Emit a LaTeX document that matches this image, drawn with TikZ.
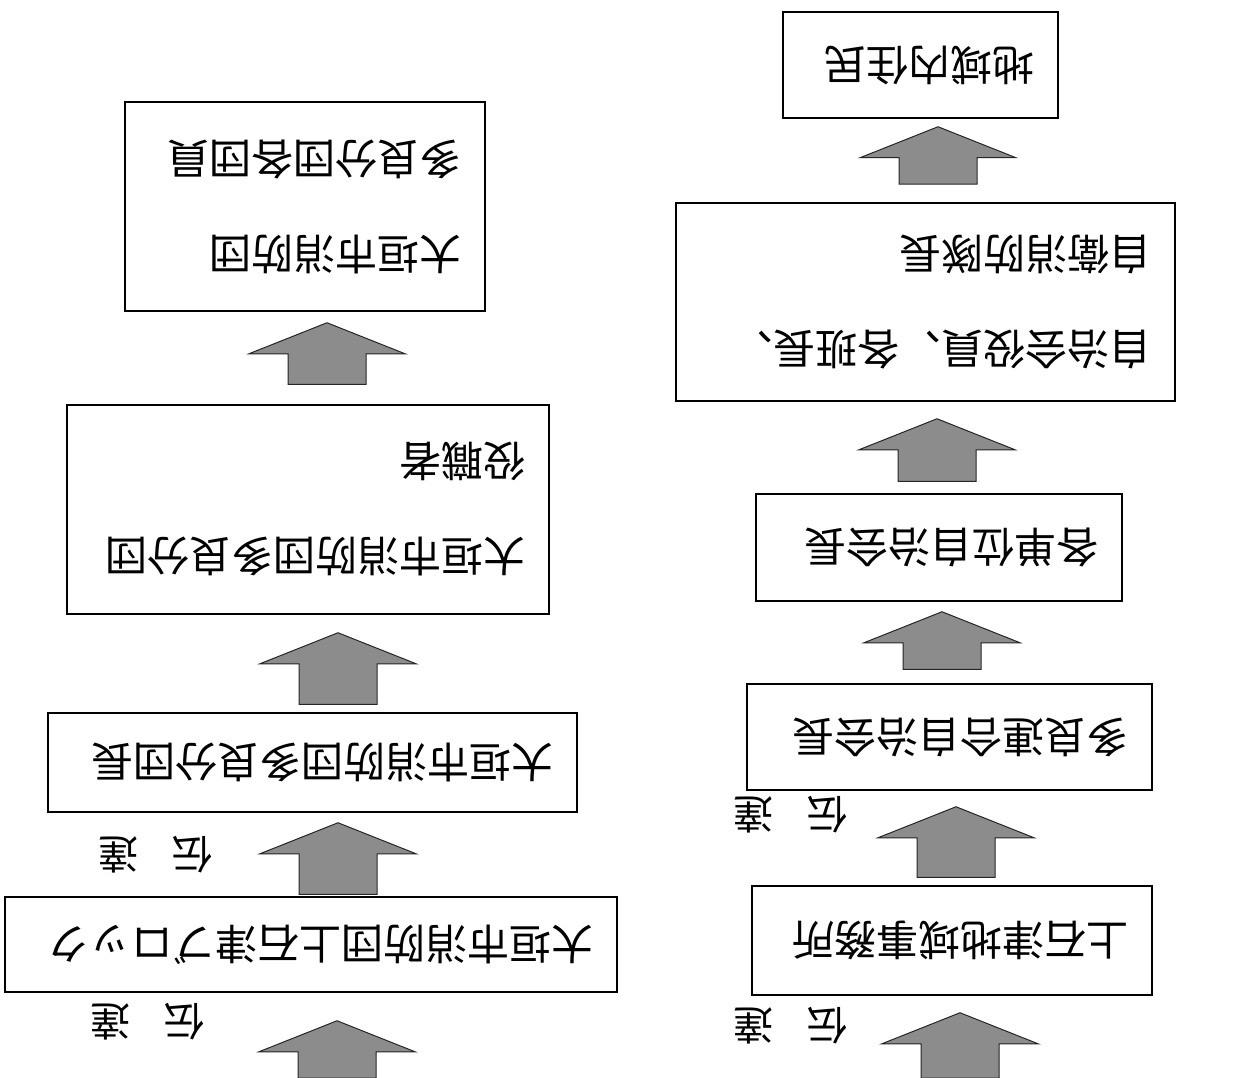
\documentclass[tikz,border=0pt]{standalone}
\usepackage{fontspec}
\usepackage{graphicx}
\usetikzlibrary{calc}
\newfontfamily\jpf{Noto Sans CJK JP}
\tikzset{
  box/.style={draw, line width=1.5pt, rotate=180, align=left, inner xsep=24pt, inner ysep=0pt,
    font=\jpf\fontsize{42}{95}\selectfont},
  lbl/.style={rotate=180, inner sep=0pt, font=\jpf\fontsize{40}{48}\selectfont},
  blkarr/.style={fill=black!45, draw=black!85, line width=1pt, line join=miter}
}
% #1 upper node anchor (image-bottom edge), #2 gap to tip, #3 lower anchor (image-top edge), #4 gap, #5 x
\newcommand\blkarrow[5]{%
  \coordinate (ax) at (#5,0);
  \filldraw[blkarr] let \p1=(#1), \p2=(#3), \p3=(ax) in
    (\x3,\y1-#2pt) -- (\x3+78pt,\y1-#2pt-31pt) -- (\x3+39pt,\y1-#2pt-31pt)
    -- (\x3+39pt,\y2+#4pt) -- (\x3-39pt,\y2+#4pt) -- (\x3-39pt,\y1-#2pt-31pt)
    -- (\x3-78pt,\y1-#2pt-31pt) -- cycle;
}
\begin{document}
\begin{tikzpicture}[x=1pt,y=-1pt]
\path[use as bounding box, fill=white] (0,0) rectangle (1240,1078);
% left column
\node[box, text width=564pt, minimum height=95pt] (A) at (311,944.5) {大垣市消防団上石津ブロック};
\node[box, text width=481pt, minimum height=99pt] (B) at (312.5,762.5) {大垣市消防団多良分団長};
\node[box, text width=434pt, minimum height=209pt] (C) at (308,509.5) {大垣市消防団多良分団\\役職者};
\node[box, text width=312pt, minimum height=209pt] (D) at (305,206.5) {大垣市消防団\\多良分団各団員};
% right column
\node[box, text width=352pt, minimum height=109pt] (E) at (952,940.5) {上石津地域事務所};
\node[box, text width=357pt, minimum height=106pt] (F) at (949.5,737) {多良連合自治会長};
\node[box, text width=318pt, minimum height=107pt] (G) at (939,547.5) {各単位自治会長};
\node[box, text width=451pt, minimum height=198pt] (H) at (925.5,302) {自治会役員、各班長、\\自衛消防隊長};
\node[box, text width=227pt, minimum height=106pt] (I) at (920.5,65) {地域内住民};
% labels
\node[lbl] (t1) at (147,1022) {伝\hspace{34pt}達};
\node[lbl] (t2) at (155,855) {伝\hspace{34pt}達};
\node[lbl] (t3) at (790,1026) {伝\hspace{34pt}達};
\node[lbl] (t4) at (790,815) {伝\hspace{34pt}達};
% free ends at the page edge
\coordinate (lbot) at (337,1078);
\coordinate (rbot) at (960,1078);
% arrows
\blkarrow{A.north}{28}{lbot}{0}{337}
\blkarrow{B.north}{10}{A.south}{2}{338}
\blkarrow{C.north}{18}{B.south}{8}{338}
\blkarrow{D.north}{11}{C.south}{20}{327}
\blkarrow{E.north}{17}{rbot}{0}{960}
\blkarrow{F.north}{16}{E.south}{8}{956}
\blkarrow{G.north}{10}{F.south}{14}{942}
\blkarrow{H.north}{17}{G.south}{12}{937}
\blkarrow{I.north}{8}{H.south}{18}{938}
\end{tikzpicture}
\end{document}
